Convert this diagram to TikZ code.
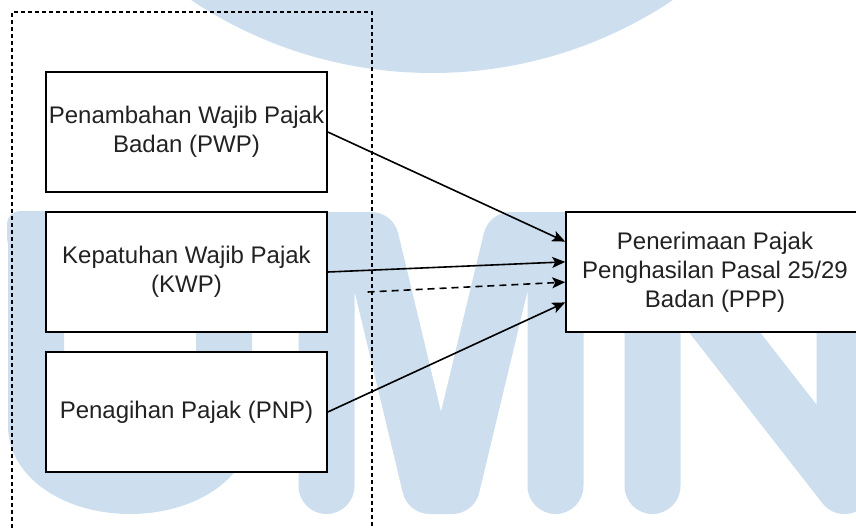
\documentclass[tikz,border=0pt]{standalone}
\usepackage{fontspec}
\setmainfont{Liberation Sans}
\usetikzlibrary{arrows.meta,calc}
\definecolor{wmblue}{RGB}{205,222,238}
\definecolor{txt}{RGB}{34,34,34}
\begin{document}
\begin{tikzpicture}[x=1pt,y=-1pt,
  wm/.style={draw=wmblue, line width=56pt, line cap=round, line join=round},
  wmtop/.style={fill=wmblue, rounded corners=13pt},
  varbox/.style={draw=black, fill=white, line width=1.6pt, minimum width=281pt,
    minimum height=120pt, inner sep=0pt, align=center, text=txt,
    font=\fontsize{24}{29}\selectfont},
  groupbox/.style={draw=black, line width=1.2pt, dash pattern=on 4pt off 3pt,
    minimum width=360pt, minimum height=560pt, inner sep=0pt},
  link/.style={line width=1.6pt, -{Stealth[length=13pt,width=11pt,inset=3pt]}},
]
\useasboundingbox (0,0) rectangle (856,528);
\clip (0,0) rectangle (856,528);

% background logo: disc and the letters U, M, N
\fill[wmblue] (432,-361) circle[radius=434pt];
\draw[wm] (36,239) -- (36,426)
  .. controls (36,459) and (78,486) .. (130,486)
  .. controls (182,486) and (224,459) .. (224,426) -- (224,239);
\fill[wmtop] (7,211) rectangle (65,252);
\fill[wmtop] (195,211) rectangle (253,252);
\draw[wm] (326.5,486) -- (326.5,240) -- (371,240) -- (430,486) -- (452,486)
  -- (511,240) -- (555.5,240) -- (555.5,486);
\fill[wmtop] (298.5,212) rectangle (354.5,252);
\fill[wmtop] (527.5,212) rectangle (583.5,252);
\draw[wm] (652.5,486) -- (652.5,240) -- (844.5,486) -- (844.5,240);

% independent variables grouped in a dashed frame
\node[groupbox] (grp) at (192,292) {};
\node[varbox] (pwp) at (186.5,132) {Penambahan Wajib Pajak\\Badan (PWP)};
\node[varbox] (kwp) at (186.5,272) {Kepatuhan Wajib Pajak\\(KWP)};
\node[varbox] (pnp) at (186.5,412) {Penagihan Pajak (PNP)};

% dependent variable
\node[varbox, minimum width=298pt] (ppp) at (715,272)
  {Penerimaan Pajak\\Penghasilan Pasal 25/29\\Badan (PPP)};

% influences
\draw[link] (pwp.east) -- ($(ppp.north west)!0.25!(ppp.south west)$);
\draw[link] (kwp.east) -- ($(ppp.north west)!0.4167!(ppp.south west)$);
\draw[link, dash pattern=on 7pt off 5pt] ($(grp.east)+(-5,0)$) -- ($(ppp.north west)!0.5833!(ppp.south west)$);
\draw[link] (pnp.east) -- ($(ppp.north west)!0.75!(ppp.south west)$);
\end{tikzpicture}
\end{document}
